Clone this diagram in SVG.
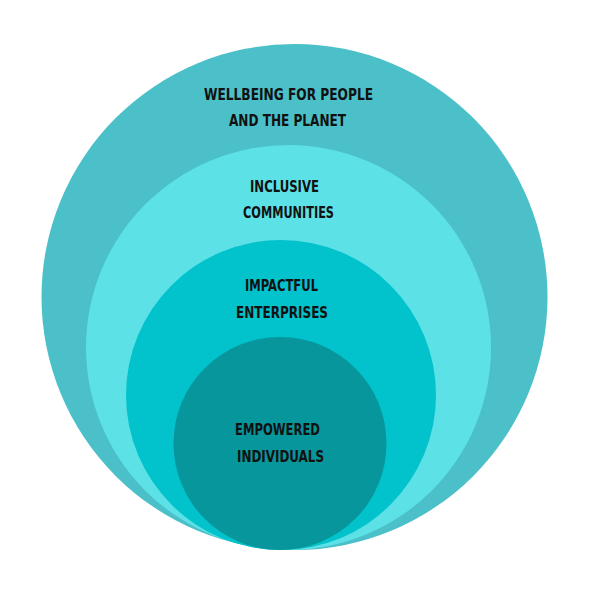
<svg xmlns="http://www.w3.org/2000/svg" width="600" height="600" viewBox="0 0 600 600">
  <style>
    .lbl { font-family: "DejaVu Sans Condensed", "Liberation Sans Narrow", "Liberation Sans", sans-serif; font-weight: bold; font-size: 15px; fill: #111111; text-anchor: middle; }
  </style>
  <rect x="0" y="0" width="600" height="600" fill="#ffffff"/>
  <g id="wellbeing">
    <circle cx="294.5" cy="297" r="253" fill="#4bc0c8"/>
    <text class="lbl" x="288.5" y="100" textLength="169" lengthAdjust="spacingAndGlyphs">WELLBEING FOR PEOPLE</text>
    <text class="lbl" x="287.5" y="126" textLength="117" lengthAdjust="spacingAndGlyphs">AND THE PLANET</text>
  </g>
  <g id="communities">
    <circle cx="288.5" cy="347.5" r="202.5" fill="#5ce1e6"/>
    <text class="lbl" x="284.5" y="192" textLength="69" lengthAdjust="spacingAndGlyphs">INCLUSIVE</text>
    <text class="lbl" x="288.5" y="218" textLength="91" lengthAdjust="spacingAndGlyphs">COMMUNITIES</text>
  </g>
  <g id="enterprises">
    <circle cx="281" cy="395" r="155" fill="#02c2cb"/>
    <text class="lbl" x="281.5" y="291" textLength="73" lengthAdjust="spacingAndGlyphs">IMPACTFUL</text>
    <text class="lbl" x="282" y="318" textLength="92" lengthAdjust="spacingAndGlyphs">ENTERPRISES</text>
  </g>
  <g id="individuals">
    <circle cx="280" cy="443.5" r="106.5" fill="#06969b"/>
    <text class="lbl" x="277.5" y="435" textLength="85" lengthAdjust="spacingAndGlyphs">EMPOWERED</text>
    <text class="lbl" x="280.5" y="462" textLength="87" lengthAdjust="spacingAndGlyphs">INDIVIDUALS</text>
  </g>
  <g id="connectors"/>
</svg>
